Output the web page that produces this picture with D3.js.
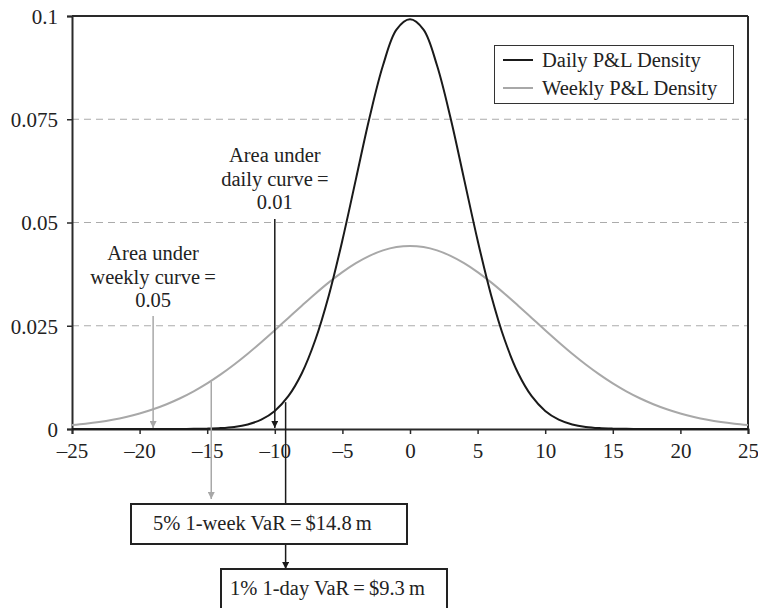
<!DOCTYPE html>
<html>
<head>
<meta charset="utf-8">
<script src="https://cdn.jsdelivr.net/npm/d3@7"></script>
<style>
html,body{margin:0;padding:0;background:#fff;}
svg{display:block;font-family:"Liberation Serif","Times New Roman",serif;}
svg text{font-family:"Liberation Serif","Times New Roman",serif;}
</style>
</head>
<body>
<svg id="chart" width="758" height="608"></svg>
<script>
// ---------- data ----------
const pnl = [-25,-24,-23,-22,-21,-20,-19,-18,-17,-16,-15,-14,-13,-12,-11,-10,-9,-8,-7,-6,-5,-4,-3,-2,-1,0,
             1,2,3,4,5,6,7,8,9,10,11,12,13,14,15,16,17,18,19,20,21,22,23,24,25];
const dailyDensity = [0,0,0,0,0,0,0.000001,0.000004,0.000012,0.000033,0.000088,0.000218,0.000507,0.00111,0.00227,
  0.00438,0.00794,0.0135,0.0216,0.0324,0.0457,0.0605,0.0753,0.0880,0.0967,0.0992,
  0.0967,0.0880,0.0753,0.0605,0.0457,0.0324,0.0216,0.0135,0.00794,0.00438,0.00227,0.00111,0.000507,0.000218,
  0.000088,0.000033,0.000012,0.000004,0.000001,0,0,0,0,0,0];
const weeklyDensity = [0.00094,0.00127,0.00169,0.00223,0.00291,0.00375,0.00478,0.00600,0.00745,0.00913,0.01105,
  0.01322,0.01562,0.01822,0.02101,0.02391,0.02689,0.02986,0.03276,0.03550,0.03799,0.04016,0.04193,0.04325,0.04406,0.04433,
  0.04406,0.04325,0.04193,0.04016,0.03799,0.03550,0.03276,0.02986,0.02689,0.02391,0.02101,0.01822,0.01562,0.01322,0.01105,
  0.00913,0.00745,0.00600,0.00478,0.00375,0.00291,0.00223,0.00169,0.00127,0.00094];
const seriesNames = ["Daily P&L Density", "Weekly P&L Density"];
const xTicks = [-25,-20,-15,-10,-5,0,5,10,15,20,25];
const yTicks = [0,0.025,0.05,0.075,0.1];
const yTickLabels = ["0","0.025","0.05","0.075","0.1"];
// annotations (data positions)
const dailyAreaX = -10, weeklyAreaX = -19;
const weeklyVaR = -14.7, weeklyVaRDensity = 0.0115;
const dailyVaR = -9.2, dailyVaRDensity = 0.0065;
const dailyNote = ["Area under", "daily curve\u2009=", "0.01"];
const weeklyNote = ["Area under", "weekly curve\u2009=", "0.05"];
const box1Text = "5% 1-week VaR\u2009=\u2009$14.8\u2009m";
const box2Text = "1% 1-day VaR\u2009=\u2009$9.3\u2009m";

// ---------- layout ----------
const L = 72, R = 748, T = 16, B = 429;
const FONT = '"Liberation Serif","Times New Roman",serif';
const black = "#1a1a1a", gray = "#a8a8a8", axisCol = "#2a2a2a";
const svg = d3.select("#chart");
const x = d3.scaleLinear().domain([-25, 25]).range([L, R]);
const y = d3.scaleLinear().domain([0, 0.1]).range([B, T]);

// defs: arrowheads
const defs = svg.append("defs");
function marker(id, col) {
  defs.append("marker").attr("id", id).attr("viewBox", "0 0 10 10")
    .attr("refX", 10).attr("refY", 5).attr("markerWidth", 7).attr("markerHeight", 7)
    .attr("markerUnits", "userSpaceOnUse").attr("orient", "auto")
    .append("path").attr("d", "M0,0 L10,5 L0,10 Z").attr("fill", col);
}
marker("arrB", black);
marker("arrG", gray);

// gridlines
svg.append("g").selectAll("line").data(yTicks.filter(d => d > 0 && d < 0.1)).join("line")
  .attr("x1", L).attr("x2", R).attr("y1", d => y(d)).attr("y2", d => y(d))
  .attr("stroke", "#ababab").attr("stroke-width", 1).attr("stroke-dasharray", "7,5");

// frame top/right
svg.append("line").attr("x1", L).attr("x2", R).attr("y1", T).attr("y2", T).attr("stroke", axisCol).attr("stroke-width", 2);
svg.append("line").attr("x1", R).attr("x2", R).attr("y1", T).attr("y2", B).attr("stroke", axisCol).attr("stroke-width", 2);

// axes
const fmtX = d => (d < 0 ? "\u2013" + Math.abs(d) : String(d));
const xAxis = svg.append("g").attr("transform", `translate(0,${B})`)
  .call(d3.axisBottom(x).tickValues(xTicks).tickFormat(fmtX).tickSize(5).tickPadding(9));
const yAxis = svg.append("g").attr("transform", `translate(${L},0)`)
  .call(d3.axisLeft(y).tickValues(yTicks).tickFormat((d, i) => yTickLabels[i]).tickSize(5).tickPadding(9));
[xAxis, yAxis].forEach(g => {
  g.attr("font-family", FONT);
  g.select(".domain").attr("stroke", axisCol).attr("stroke-width", 2);
  g.selectAll(".tick line").attr("stroke", axisCol).attr("stroke-width", 1.5);
  g.selectAll("text").attr("fill", "#222").style("font-size", "21px").style("font-family", FONT);
});
yAxis.selectAll("text").attr("dy", "0.35em");

// curves
const line = d3.line().x((d, i) => x(pnl[i])).y(d => y(d)).curve(d3.curveCatmullRom.alpha(0.5));
svg.append("path").datum(weeklyDensity).attr("d", line).attr("fill", "none")
  .attr("stroke", gray).attr("stroke-width", 2);
svg.append("path").datum(dailyDensity).attr("d", line).attr("fill", "none")
  .attr("stroke", black).attr("stroke-width", 2);

// legend
const lg = svg.append("g");
lg.append("rect").attr("x", 494.5).attr("y", 45.5).attr("width", 239).attr("height", 58)
  .attr("fill", "#fff").attr("stroke", "#333").attr("stroke-width", 1);
const legendCols = [black, gray];
seriesNames.forEach((name, i) => {
  const yy = 60 + i * 28;
  lg.append("line").attr("x1", 503).attr("x2", 533).attr("y1", yy).attr("y2", yy)
    .attr("stroke", legendCols[i]).attr("stroke-width", 2);
  lg.append("text").attr("x", 542).attr("y", yy + 7).text(name)
    .style("font-size", "20.5px").style("font-family", FONT).attr("fill", "#222");
});

// annotation notes
function note(lines, cx, baseY) {
  const t = svg.append("text").attr("text-anchor", "middle").style("font-size", "20.5px")
    .style("font-family", FONT).attr("fill", "#222");
  lines.forEach((s, i) => t.append("tspan").attr("x", cx).attr("y", baseY + i * 23.5).text(s));
}
note(dailyNote, x(dailyAreaX), 162);
note(weeklyNote, x(weeklyAreaX), 260);

// area arrows
svg.append("line").attr("x1", x(dailyAreaX)).attr("x2", x(dailyAreaX)).attr("y1", 219).attr("y2", B - 1)
  .attr("stroke", black).attr("stroke-width", 1.5).attr("marker-end", "url(#arrB)");
svg.append("line").attr("x1", x(weeklyAreaX)).attr("x2", x(weeklyAreaX)).attr("y1", 316).attr("y2", B - 1)
  .attr("stroke", gray).attr("stroke-width", 1.5).attr("marker-end", "url(#arrG)");

// VaR connectors
svg.append("line").attr("x1", x(weeklyVaR)).attr("x2", x(weeklyVaR)).attr("y1", y(weeklyVaRDensity)).attr("y2", 499)
  .attr("stroke", gray).attr("stroke-width", 1.5).attr("marker-end", "url(#arrG)");
svg.append("line").attr("x1", x(dailyVaR)).attr("x2", x(dailyVaR)).attr("y1", y(dailyVaRDensity)).attr("y2", 504)
  .attr("stroke", black).attr("stroke-width", 1.5);
svg.append("line").attr("x1", x(dailyVaR)).attr("x2", x(dailyVaR)).attr("y1", 544).attr("y2", 569)
  .attr("stroke", black).attr("stroke-width", 1.5).attr("marker-end", "url(#arrB)");

// boxes
svg.append("rect").attr("x", 131).attr("y", 504).attr("width", 276).attr("height", 40)
  .attr("fill", "#fff").attr("stroke", "#222").attr("stroke-width", 2);
svg.append("text").attr("x", 153).attr("y", 530).text(box1Text).style("font-size", "20.5px")
  .style("font-family", FONT).attr("fill", "#222");
svg.append("rect").attr("x", 221).attr("y", 569).attr("width", 226).attr("height", 50)
  .attr("fill", "#fff").attr("stroke", "#222").attr("stroke-width", 2);
svg.append("text").attr("x", 230).attr("y", 595).text(box2Text).style("font-size", "20.5px")
  .style("font-family", FONT).attr("fill", "#222");
</script>
</body>
</html>
